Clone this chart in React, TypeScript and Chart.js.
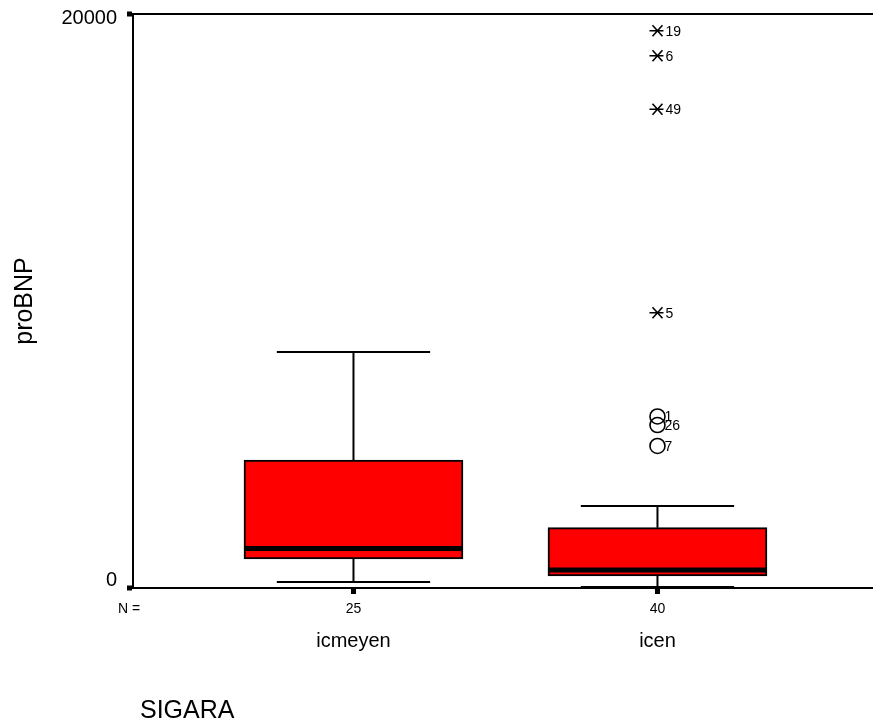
import { useEffect, useRef } from 'react';
import { Chart, registerables } from 'chart.js';

Chart.register(...registerables);

// ---- data ----
const categories = ['icmeyen', 'icen'];
const groupPositions = [1, 2];
const counts = [25, 40];
const whiskerLow = [209, 35];
const q1 = [1010, 418];
const median = [1376, 627];
const q3 = [4460, 2101];
const whiskerHigh = [8223, 2857];

// extreme values (asterisks) and outliers (circles), all in group "icen"
const extremeGroup = [2, 2, 2, 2];
const extremeValues = [19418, 18547, 16679, 9592];
const extremeLabels = ['19', '6', '49', '5'];
const outlierGroup = [2, 2, 2];
const outlierValues = [5976, 5679, 4948];
const outlierLabels = ['1', '26', '7'];

const yTicks = [0, 20000];
const xAxisTitle = 'SIGARA';
const yAxisTitle = 'proBNP';

const FONT = "Arial, 'Liberation Sans', sans-serif";

const boxPlotPlugin = {
  id: 'spssBoxPlot',
  afterDatasetsDraw(chart: any) {
    const { ctx, chartArea: area, scales } = chart;
    const xs = scales.x;
    const ys = scales.y;
    const meta = chart.getDatasetMeta(0);
    ctx.save();
    ctx.strokeStyle = '#000';
    ctx.fillStyle = '#000';

    // top frame line
    ctx.lineWidth = 2;
    ctx.beginPath();
    ctx.moveTo(area.left - 1, area.top);
    ctx.lineTo(area.right + 2, area.top);
    ctx.stroke();

    categories.forEach((_, i) => {
      const bar = meta.data[i];
      const cx = xs.getPixelForValue(groupPositions[i]);
      const boxW = bar.width;
      const capHalf = boxW * 0.35;
      const yHigh = ys.getPixelForValue(whiskerHigh[i]);
      const yLow = ys.getPixelForValue(whiskerLow[i]);
      const yQ1 = ys.getPixelForValue(q1[i]);
      const yQ3 = ys.getPixelForValue(q3[i]);
      const yMed = ys.getPixelForValue(median[i]);

      ctx.lineWidth = 2;
      ctx.beginPath();
      ctx.moveTo(cx, yQ3);
      ctx.lineTo(cx, yHigh);
      ctx.moveTo(cx - capHalf, yHigh);
      ctx.lineTo(cx + capHalf, yHigh);
      ctx.moveTo(cx, yQ1);
      ctx.lineTo(cx, yLow);
      ctx.moveTo(cx - capHalf, yLow);
      ctx.lineTo(cx + capHalf, yLow);
      ctx.stroke();

      // median band
      ctx.fillRect(cx - boxW / 2, yMed - 2.5, boxW, 5);

      // x tick square
      ctx.fillRect(cx - 2.5, area.bottom + 1, 5, 5);

      // counts and category names
      ctx.textAlign = 'center';
      ctx.textBaseline = 'alphabetic';
      ctx.font = `14px ${FONT}`;
      ctx.fillText(String(counts[i]), cx, area.bottom + 25);
      ctx.font = `20px ${FONT}`;
      ctx.fillText(categories[i], cx, area.bottom + 59);
    });

    // extremes (asterisks)
    ctx.lineWidth = 1.6;
    extremeValues.forEach((v, i) => {
      const px = xs.getPixelForValue(extremeGroup[i]);
      const py = ys.getPixelForValue(v);
      ctx.beginPath();
      ctx.moveTo(px - 8, py);
      ctx.lineTo(px + 6, py);
      ctx.moveTo(px - 5, py - 5.5);
      ctx.lineTo(px + 5, py + 5.5);
      ctx.moveTo(px - 5, py + 5.5);
      ctx.lineTo(px + 5, py - 5.5);
      ctx.stroke();
      ctx.font = `14px ${FONT}`;
      ctx.textAlign = 'left';
      ctx.textBaseline = 'alphabetic';
      ctx.fillText(extremeLabels[i], px + 8, py + 5);
    });

    // outliers (circles)
    ctx.lineWidth = 1.6;
    outlierValues.forEach((v, i) => {
      const px = xs.getPixelForValue(outlierGroup[i]);
      const py = ys.getPixelForValue(v);
      ctx.beginPath();
      ctx.arc(px, py, 7.5, 0, Math.PI * 2);
      ctx.stroke();
      ctx.font = `14px ${FONT}`;
      ctx.textAlign = 'left';
      ctx.textBaseline = 'alphabetic';
      ctx.fillText(outlierLabels[i], px + 7, py + 5);
    });

    // y ticks
    yTicks.forEach((t) => {
      const py = ys.getPixelForValue(t);
      ctx.fillRect(area.left - 6, py - 2.5, 5, 5);
      ctx.font = `20px ${FONT}`;
      ctx.textAlign = 'right';
      ctx.textBaseline = 'alphabetic';
      ctx.fillText(String(t), area.left - 16, Math.min(py + 10, area.bottom - 2));
    });

    // N =
    ctx.font = `14px ${FONT}`;
    ctx.textAlign = 'left';
    ctx.fillText('N =', area.left - 15, area.bottom + 25);

    // x axis title
    ctx.font = `25px ${FONT}`;
    ctx.textAlign = 'left';
    ctx.fillText(xAxisTitle, 140, chart.height - 8);

    // y axis title
    ctx.save();
    ctx.translate(32, (area.top + area.bottom) / 2);
    ctx.rotate(-Math.PI / 2);
    ctx.font = `25px ${FONT}`;
    ctx.textAlign = 'center';
    ctx.textBaseline = 'alphabetic';
    ctx.fillText(yAxisTitle, 0, 0);
    ctx.restore();

    ctx.restore();
  },
};

export default function App() {
  const canvasRef = useRef<HTMLCanvasElement | null>(null);

  useEffect(() => {
    document.body.style.margin = '0';
    const canvas = canvasRef.current;
    if (!canvas) return;
    const chart = new Chart(canvas, {
      type: 'bar',
      data: {
        datasets: [
          {
            data: categories.map((_, i) => ({ x: groupPositions[i], y: [q1[i], q3[i]] })) as any,
            backgroundColor: '#ff0000',
            borderColor: '#000000',
            borderWidth: 2,
            borderSkipped: false,
            barThickness: 219,
          },
        ],
      },
      options: {
        animation: false,
        responsive: false,
        devicePixelRatio: 1,
        layout: { padding: { left: 0, right: 0, top: 14, bottom: 0 } },
        plugins: {
          legend: { display: false },
          tooltip: { enabled: false },
        },
        scales: {
          x: {
            type: 'linear',
            offset: false,
            min: 0.2747,
            max: 2.709,
            grid: { display: false, offset: false },
            ticks: { display: false },
            border: { display: true, color: '#000', width: 2 },
            afterFit: (s: any) => {
              s.height = 138;
            },
          },
          y: {
            type: 'linear',
            min: yTicks[0],
            max: yTicks[yTicks.length - 1],
            grid: { display: false },
            ticks: { display: false },
            border: { display: true, color: '#000', width: 2 },
            afterFit: (s: any) => {
              s.width = 133;
            },
          },
        },
      },
      plugins: [boxPlotPlugin],
    });
    return () => chart.destroy();
  }, []);

  return (
    <div style={{ position: 'absolute', left: 0, top: 0, width: 873, height: 726, background: '#fff' }}>
      <canvas ref={canvasRef} width={873} height={726} style={{ display: 'block' }} />
    </div>
  );
}
